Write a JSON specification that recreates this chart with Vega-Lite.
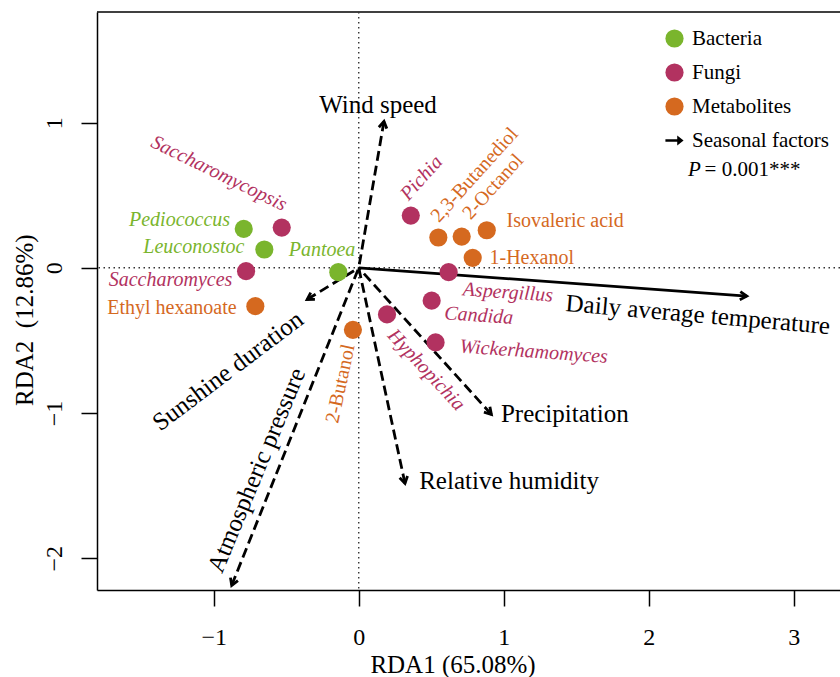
{
  "$schema": "https://vega.github.io/schema/vega-lite/v6.json",
  "width": 743,
  "height": 578,
  "autosize": {"type": "none"},
  "padding": {"left": 97, "top": 12, "right": 0, "bottom": 87},
  "background": "white",
  "config": {
    "view": {"stroke": null},
    "font": "Liberation Serif",
    "legend": {"labelFont": "Liberation Serif", "labelFontSize": 21, "labelColor": "#000"}
  },
  "datasets": {
    "pts": [
      {"name": "Pediococcus", "group": "Bacteria", "x": -0.793, "y": 0.268},
      {"name": "Leuconostoc", "group": "Bacteria", "x": -0.651, "y": 0.126},
      {"name": "Pantoea", "group": "Bacteria", "x": -0.141, "y": -0.030},
      {"name": "Saccharomycopsis", "group": "Fungi", "x": -0.531, "y": 0.277},
      {"name": "Saccharomyces", "group": "Fungi", "x": -0.777, "y": -0.023},
      {"name": "Pichia", "group": "Fungi", "x": 0.359, "y": 0.360},
      {"name": "Aspergillus", "group": "Fungi", "x": 0.620, "y": -0.030},
      {"name": "Candida", "group": "Fungi", "x": 0.503, "y": -0.226},
      {"name": "Hyphopichia", "group": "Fungi", "x": 0.195, "y": -0.321},
      {"name": "Wickerhamomyces", "group": "Fungi", "x": 0.530, "y": -0.514},
      {"name": "Ethyl hexanoate", "group": "Metabolites", "x": -0.713, "y": -0.264},
      {"name": "2,3-Butanediol", "group": "Metabolites", "x": 0.549, "y": 0.209},
      {"name": "2-Octanol", "group": "Metabolites", "x": 0.710, "y": 0.215},
      {"name": "Isovaleric acid", "group": "Metabolites", "x": 0.883, "y": 0.259},
      {"name": "1-Hexanol", "group": "Metabolites", "x": 0.786, "y": 0.069},
      {"name": "2-Butanol", "group": "Metabolites", "x": -0.040, "y": -0.427}
    ],
    "arrows": [
      {"factor": "Wind speed", "x": 0.174, "y": 1.009},
      {"factor": "Daily average temperature", "x": 2.676, "y": -0.195},
      {"factor": "Sunshine duration", "x": -0.356, "y": -0.218},
      {"factor": "Atmospheric pressure", "x": -0.876, "y": -2.187},
      {"factor": "Relative humidity", "x": 0.319, "y": -1.485},
      {"factor": "Precipitation", "x": 0.915, "y": -1.010}
    ],
    "labels": [
      {"label": "Pediococcus", "x": -1.236, "y": 0.288},
      {"label": "Leuconostoc", "x": -1.137, "y": 0.103},
      {"label": "Pantoea", "x": -0.253, "y": 0.080},
      {"label": "Saccharomyces", "x": -1.298, "y": -0.122},
      {"label": "Ethyl hexanoate", "x": -1.288, "y": -0.321},
      {"label": "Isovaleric acid", "x": 1.423, "y": 0.279},
      {"label": "1-Hexanol", "x": 1.193, "y": 0.028},
      {"label": "Aspergillus", "x": 1.026, "y": -0.211},
      {"label": "Candida", "x": 0.825, "y": -0.370},
      {"label": "Wickerhamomyces", "x": 1.204, "y": -0.619},
      {"label": "Saccharomycopsis", "x": -0.982, "y": 0.613},
      {"label": "Pichia", "x": 0.463, "y": 0.591},
      {"label": "2,3-Butanediol", "x": 0.829, "y": 0.612},
      {"label": "2-Octanol", "x": 0.957, "y": 0.531},
      {"label": "Hyphopichia", "x": 0.436, "y": -0.731},
      {"label": "2-Butanol", "x": -0.085, "y": -0.807},
      {"label": "Wind speed", "x": 0.133, "y": 1.067},
      {"label": "Precipitation", "x": 1.421, "y": -1.063},
      {"label": "Relative humidity", "x": 1.037, "y": -1.521},
      {"label": "Daily average temperature", "x": 2.334, "y": -0.377},
      {"label": "Sunshine duration", "x": -0.870, "y": -0.754},
      {"label": "Atmospheric pressure", "x": -0.654, "y": -1.415},
      {"label": "P", "x": 2.271, "y": 0.630},
      {"label": "= 0.001***", "x": 2.385, "y": 0.630}
    ]
  },
  "layer": [
    {
      "data": {"values": [{}]},
      "mark": {"type": "rule", "color": "#000", "strokeWidth": 1.5},
      "encoding": {"y": {"datum": 1.762, "type": "quantitative"}}
    },
    {
      "data": {"values": [{}]},
      "mark": {"type": "rule", "color": "#333", "strokeWidth": 1.4, "strokeDash": [1.5, 3.5]},
      "encoding": {"y": {"datum": 0, "type": "quantitative"}}
    },
    {
      "data": {"values": [{}]},
      "mark": {"type": "rule", "color": "#333", "strokeWidth": 1.4, "strokeDash": [1.5, 3.5]},
      "encoding": {"x": {"datum": 0, "type": "quantitative"}}
    },
    {
      "data": {"name": "arrows"},
      "transform": [{"filter": "datum.factor != 'Daily average temperature'"}],
      "mark": {"type": "rule", "color": "#000", "strokeWidth": 2.8, "strokeDash": [10, 5]},
      "encoding": {
        "x": {"field": "x", "type": "quantitative"},
        "y": {"field": "y", "type": "quantitative"},
        "x2": {"datum": 0},
        "y2": {"datum": 0}
      }
    },
    {
      "data": {"name": "arrows"},
      "transform": [{"filter": "datum.factor == 'Daily average temperature'"}],
      "mark": {"type": "rule", "color": "#000", "strokeWidth": 2.8},
      "encoding": {
        "x": {"field": "x", "type": "quantitative"},
        "y": {"field": "y", "type": "quantitative"},
        "x2": {"datum": 0},
        "y2": {"datum": 0}
      }
    },
    {
      "data": {"name": "arrows"},
      "transform": [{"calculate": "atan2(-datum.y, datum.x) * 180 / PI", "as": "dir"}],
      "mark": {"type": "point", "shape": "M-1,-0.6L0,0L-1,0.6", "filled": false, "size": 180, "strokeWidth": 2.8, "color": "#000", "opacity": 1},
      "encoding": {
        "x": {"field": "x", "type": "quantitative"},
        "y": {"field": "y", "type": "quantitative"},
        "angle": {"field": "dir", "type": "quantitative", "scale": null}
      }
    },
    {
      "data": {"name": "pts"},
      "mark": {"type": "point", "filled": true, "opacity": 1, "size": 330, "strokeWidth": 0},
      "encoding": {
        "x": {
          "field": "x", "type": "quantitative",
          "scale": {"domain": [-1.805, 3.319], "nice": false, "zero": false},
          "axis": {
            "title": "RDA1 (65.08%)", "values": [-1, 0, 1, 2, 3], "format": "d", "grid": false,
            "tickSize": 16, "tickWidth": 1.5, "tickColor": "#000",
            "domainWidth": 1.5, "domainColor": "#000",
            "labelFont": "Liberation Serif", "labelFontSize": 24, "labelColor": "#000",
            "labelBaseline": "alphabetic", "labelPadding": 38.5, "labelFlush": false, "labelOverlap": false,
            "titleFont": "Liberation Serif", "titleFontSize": 25, "titleFontWeight": "normal", "titleColor": "#000",
            "titleX": 355.5, "titleY": 82, "titleBaseline": "alphabetic", "titleAlign": "center"
          }
        },
        "y": {
          "field": "y", "type": "quantitative",
          "scale": {"domain": [-2.219, 1.762], "nice": false, "zero": false},
          "axis": {
            "title": "RDA2\u00a0 (12.86%)", "values": [-2, -1, 0, 1], "format": "d", "grid": false,
            "tickSize": 16, "tickWidth": 1.5, "tickColor": "#000",
            "domainWidth": 1.5, "domainColor": "#000",
            "labelFont": "Liberation Serif", "labelFontSize": 24, "labelColor": "#000",
            "labelAngle": -90, "labelAlign": "center", "labelBaseline": "alphabetic", "labelPadding": 20,
            "labelFlush": false, "labelOverlap": false,
            "titleFont": "Liberation Serif", "titleFontSize": 25, "titleFontWeight": "normal", "titleColor": "#000",
            "titleAngle": -90, "titleX": -64.7, "titleY": 307.7, "titleBaseline": "alphabetic", "titleAlign": "center"
          }
        },
        "color": {
          "field": "group", "type": "nominal",
          "scale": {"domain": ["Bacteria", "Fungi", "Metabolites", "Seasonal factors"], "range": ["#7AB52D", "#B23260", "#D5691F", "#000000"]},
          "legend": {"orient": "none", "legendX": 567, "legendY": 16, "title": null, "padding": 0,
            "labelFont": "Liberation Serif", "labelFontSize": 21, "labelColor": "#000",
            "symbolSize": 330, "symbolStrokeWidth": 0, "rowPadding": 12, "labelOffset": 7}
        },
        "shape": {
          "field": "group", "type": "nominal",
          "scale": {"domain": ["Bacteria", "Fungi", "Metabolites", "Seasonal factors"], "range": ["circle", "circle", "circle", "M-1,-0.15L0.3,-0.15L0.3,-0.55L1,0L0.3,0.55L0.3,0.15L-1,0.15Z"]},
          "legend": {"orient": "none", "legendX": 567, "legendY": 16, "title": null, "padding": 0,
            "labelFont": "Liberation Serif", "labelFontSize": 21, "labelColor": "#000",
            "symbolSize": 330, "symbolStrokeWidth": 0, "rowPadding": 12, "labelOffset": 7}
        }
      }
    },
    {
      "data": {"name": "labels"},
      "transform": [{"filter": {"field": "label", "oneOf": ["Pediococcus", "Leuconostoc", "Pantoea"]}}],
      "mark": {"type": "text", "font": "Liberation Serif", "fontSize": 20, "fontStyle": "italic", "color": "#7AB52D", "align": "center", "baseline": "alphabetic"},
      "encoding": {
        "x": {"field": "x", "type": "quantitative"},
        "y": {"field": "y", "type": "quantitative"},
        "text": {"field": "label"}
      }
    },
    {
      "data": {"name": "labels"},
      "transform": [{"filter": {"field": "label", "oneOf": ["Saccharomyces"]}}],
      "mark": {"type": "text", "font": "Liberation Serif", "fontSize": 20, "fontStyle": "italic", "color": "#B23260", "align": "center", "baseline": "alphabetic"},
      "encoding": {
        "x": {"field": "x", "type": "quantitative"},
        "y": {"field": "y", "type": "quantitative"},
        "text": {"field": "label"}
      }
    },
    {
      "data": {"name": "labels"},
      "transform": [{"filter": {"field": "label", "oneOf": ["Aspergillus", "Candida", "Wickerhamomyces"]}}],
      "mark": {"type": "text", "font": "Liberation Serif", "fontSize": 20, "fontStyle": "italic", "color": "#B23260", "align": "center", "baseline": "alphabetic", "angle": 4},
      "encoding": {
        "x": {"field": "x", "type": "quantitative"},
        "y": {"field": "y", "type": "quantitative"},
        "text": {"field": "label"}
      }
    },
    {
      "data": {"name": "labels"},
      "transform": [{"filter": {"field": "label", "oneOf": ["Saccharomycopsis"]}}],
      "mark": {"type": "text", "font": "Liberation Serif", "fontSize": 20, "fontStyle": "italic", "color": "#B23260", "align": "center", "baseline": "alphabetic", "angle": 26},
      "encoding": {
        "x": {"field": "x", "type": "quantitative"},
        "y": {"field": "y", "type": "quantitative"},
        "text": {"field": "label"}
      }
    },
    {
      "data": {"name": "labels"},
      "transform": [{"filter": {"field": "label", "oneOf": ["Pichia"]}}],
      "mark": {"type": "text", "font": "Liberation Serif", "fontSize": 20, "fontStyle": "italic", "color": "#B23260", "align": "center", "baseline": "alphabetic", "angle": -48},
      "encoding": {
        "x": {"field": "x", "type": "quantitative"},
        "y": {"field": "y", "type": "quantitative"},
        "text": {"field": "label"}
      }
    },
    {
      "data": {"name": "labels"},
      "transform": [{"filter": {"field": "label", "oneOf": ["Hyphopichia"]}}],
      "mark": {"type": "text", "font": "Liberation Serif", "fontSize": 20, "fontStyle": "italic", "color": "#B23260", "align": "center", "baseline": "alphabetic", "angle": 47},
      "encoding": {
        "x": {"field": "x", "type": "quantitative"},
        "y": {"field": "y", "type": "quantitative"},
        "text": {"field": "label"}
      }
    },
    {
      "data": {"name": "labels"},
      "transform": [{"filter": {"field": "label", "oneOf": ["Ethyl hexanoate", "Isovaleric acid", "1-Hexanol"]}}],
      "mark": {"type": "text", "font": "Liberation Serif", "fontSize": 20, "color": "#D5691F", "align": "center", "baseline": "alphabetic"},
      "encoding": {
        "x": {"field": "x", "type": "quantitative"},
        "y": {"field": "y", "type": "quantitative"},
        "text": {"field": "label"}
      }
    },
    {
      "data": {"name": "labels"},
      "transform": [{"filter": {"field": "label", "oneOf": ["2,3-Butanediol", "2-Octanol"]}}],
      "mark": {"type": "text", "font": "Liberation Serif", "fontSize": 20, "color": "#D5691F", "align": "center", "baseline": "alphabetic", "angle": -48},
      "encoding": {
        "x": {"field": "x", "type": "quantitative"},
        "y": {"field": "y", "type": "quantitative"},
        "text": {"field": "label"}
      }
    },
    {
      "data": {"name": "labels"},
      "transform": [{"filter": {"field": "label", "oneOf": ["2-Butanol"]}}],
      "mark": {"type": "text", "font": "Liberation Serif", "fontSize": 20, "color": "#D5691F", "align": "center", "baseline": "alphabetic", "angle": -78},
      "encoding": {
        "x": {"field": "x", "type": "quantitative"},
        "y": {"field": "y", "type": "quantitative"},
        "text": {"field": "label"}
      }
    },
    {
      "data": {"name": "labels"},
      "transform": [{"filter": {"field": "label", "oneOf": ["Wind speed", "Precipitation", "Relative humidity"]}}],
      "mark": {"type": "text", "font": "Liberation Serif", "fontSize": 25, "color": "#000", "align": "center", "baseline": "alphabetic"},
      "encoding": {
        "x": {"field": "x", "type": "quantitative"},
        "y": {"field": "y", "type": "quantitative"},
        "text": {"field": "label"}
      }
    },
    {
      "data": {"name": "labels"},
      "transform": [{"filter": {"field": "label", "oneOf": ["Daily average temperature"]}}],
      "mark": {"type": "text", "font": "Liberation Serif", "fontSize": 25, "color": "#000", "align": "center", "baseline": "alphabetic", "angle": 5},
      "encoding": {
        "x": {"field": "x", "type": "quantitative"},
        "y": {"field": "y", "type": "quantitative"},
        "text": {"field": "label"}
      }
    },
    {
      "data": {"name": "labels"},
      "transform": [{"filter": {"field": "label", "oneOf": ["Sunshine duration"]}}],
      "mark": {"type": "text", "font": "Liberation Serif", "fontSize": 25, "color": "#000", "align": "center", "baseline": "alphabetic", "angle": -37},
      "encoding": {
        "x": {"field": "x", "type": "quantitative"},
        "y": {"field": "y", "type": "quantitative"},
        "text": {"field": "label"}
      }
    },
    {
      "data": {"name": "labels"},
      "transform": [{"filter": {"field": "label", "oneOf": ["Atmospheric pressure"]}}],
      "mark": {"type": "text", "font": "Liberation Serif", "fontSize": 25, "color": "#000", "align": "center", "baseline": "alphabetic", "angle": -67.5},
      "encoding": {
        "x": {"field": "x", "type": "quantitative"},
        "y": {"field": "y", "type": "quantitative"},
        "text": {"field": "label"}
      }
    },
    {
      "data": {"name": "labels"},
      "transform": [{"filter": {"field": "label", "oneOf": ["P"]}}],
      "mark": {"type": "text", "font": "Liberation Serif", "fontSize": 21, "fontStyle": "italic", "color": "#000", "align": "left", "baseline": "alphabetic"},
      "encoding": {
        "x": {"field": "x", "type": "quantitative"},
        "y": {"field": "y", "type": "quantitative"},
        "text": {"field": "label"}
      }
    },
    {
      "data": {"name": "labels"},
      "transform": [{"filter": {"field": "label", "oneOf": ["= 0.001***"]}}],
      "mark": {"type": "text", "font": "Liberation Serif", "fontSize": 21, "color": "#000", "align": "left", "baseline": "alphabetic"},
      "encoding": {
        "x": {"field": "x", "type": "quantitative"},
        "y": {"field": "y", "type": "quantitative"},
        "text": {"field": "label"}
      }
    }
  ]
}
